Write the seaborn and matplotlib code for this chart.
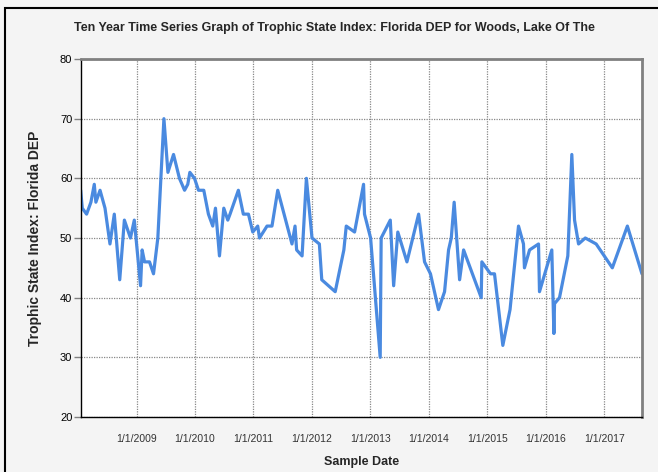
import matplotlib
matplotlib.use('Agg')
import matplotlib.pyplot as plt
import matplotlib.patches as patches
import seaborn as sns
import pandas as pd

# sample dates and TSI values
sample_dates = [
    '2008-01-18', '2008-01-28', '2008-02-24', '2008-03-22', '2008-04-12', '2008-04-22',
    '2008-05-18', '2008-06-18', '2008-07-19', '2008-08-15', '2008-09-18', '2008-10-17',
    '2008-11-24', '2008-12-18', '2009-01-26', '2009-02-05', '2009-02-20', '2009-03-23',
    '2009-04-17', '2009-05-14', '2009-06-21', '2009-07-16', '2009-08-20', '2009-09-26',
    '2009-10-28', '2009-11-17', '2009-11-30', '2009-12-29', '2010-01-23', '2010-02-25',
    '2010-03-26', '2010-04-22', '2010-05-09', '2010-06-03', '2010-06-30', '2010-07-25',
    '2010-08-08', '2010-09-29', '2010-10-30', '2010-12-01', '2010-12-28', '2011-01-28',
    '2011-02-08', '2011-03-27', '2011-04-27', '2011-06-02', '2011-08-30', '2011-09-18',
    '2011-09-28', '2011-11-01', '2011-11-28', '2012-01-02', '2012-02-17', '2012-03-03',
    '2012-05-26', '2012-07-19', '2012-08-03', '2012-09-24', '2012-11-19', '2012-11-25',
    '2013-01-02', '2013-03-03', '2013-03-09', '2013-05-05', '2013-05-26', '2013-06-21',
    '2013-08-17', '2013-10-29', '2013-12-05', '2014-01-11', '2014-03-02', '2014-04-09',
    '2014-05-04', '2014-05-21', '2014-06-08', '2014-07-12', '2014-08-06', '2014-11-24',
    '2014-11-28', '2015-01-21', '2015-02-15', '2015-04-08', '2015-05-23', '2015-07-15',
    '2015-08-15', '2015-08-21', '2015-09-22', '2015-11-17', '2015-11-23', '2016-02-08',
    '2016-02-21', '2016-02-25', '2016-03-27', '2016-05-18', '2016-06-12', '2016-06-29',
    '2016-07-24', '2016-09-04', '2016-11-11', '2017-02-20', '2017-05-25', '2017-08-24',
]
tsi_values = [
    58, 55, 54, 56, 59, 56, 58, 55, 49, 54, 43, 53,
    50, 53, 42, 48, 46, 46, 44, 50, 70, 61, 64, 60,
    58, 59, 61, 60, 58, 58, 54, 52, 55, 47, 55, 53,
    54, 58, 54, 54, 51, 52, 50, 52, 52, 58, 49, 52,
    48, 47, 60, 50, 49, 43, 41, 48, 52, 51, 59, 54,
    50, 30, 50, 53, 42, 51, 46, 54, 46, 44, 38, 41,
    48, 50, 56, 43, 48, 40, 46, 44, 44, 32, 38, 52,
    49, 45, 48, 49, 41, 48, 34, 39, 40, 47, 64, 53,
    49, 50, 49, 45, 52, 44,
]
tick_years = [2009, 2010, 2011, 2012, 2013, 2014, 2015, 2016, 2017]
y_ticks = [20, 30, 40, 50, 60, 70, 80]

df = pd.DataFrame({'date': pd.to_datetime(sample_dates), 'tsi': tsi_values})

sns.set_theme(style='white')
plt.rcParams['font.family'] = ['Liberation Sans', 'DejaVu Sans']

fig = plt.figure(figsize=(6.58, 4.72), dpi=100, facecolor='#f4f4f4')
ax = fig.add_axes([0.1226, 0.1165, 0.853, 0.7585])
ax.set_facecolor('white')

sns.lineplot(data=df, x='date', y='tsi', ax=ax, color='#4a8ae0', linewidth=2.3)

ax.set_xlim(df['date'].iloc[0], df['date'].iloc[-1])
ax.set_ylim(20, 80)
ax.set_yticks(y_ticks)
tick_pos = pd.to_datetime([f'{y}-01-01' for y in tick_years])
ax.set_xticks(tick_pos)
ax.set_xticklabels([f'1/1/{y}' for y in tick_years])

ax.grid(True, linestyle=(0, (1, 1)), color='#888888', linewidth=0.9)
ax.tick_params(axis='y', left=True, length=5, width=1, color='#808080',
               labelsize=8, labelcolor='black', pad=1)
ax.tick_params(axis='x', bottom=False, labelsize=7.5, labelcolor='#333333', pad=6)

for side in ['top', 'right']:
    ax.spines[side].set_color('#808080')
    ax.spines[side].set_linewidth(2)
for side in ['left', 'bottom']:
    ax.spines[side].set_color('black')
    ax.spines[side].set_linewidth(1)

ax.set_xlabel('Sample Date', fontsize=9, fontweight='bold', labelpad=9)
ax.set_ylabel('Trophic State Index: Florida DEP', fontsize=10, fontweight='bold', labelpad=13)
fig.text(0.509, 0.94, 'Ten Year Time Series Graph of Trophic State Index: Florida DEP for Woods, Lake Of The',
         ha='center', va='center', fontsize=9, fontweight='bold')

# outer frame around the chart
frame = patches.Rectangle((5 / 658, -0.1), 1.1, 1.1 - 8 / 472, transform=fig.transFigure,
                          fill=False, edgecolor='black', linewidth=1.5)
fig.patches.append(frame)

fig.savefig('out.png', dpi=100, facecolor=fig.get_facecolor())
